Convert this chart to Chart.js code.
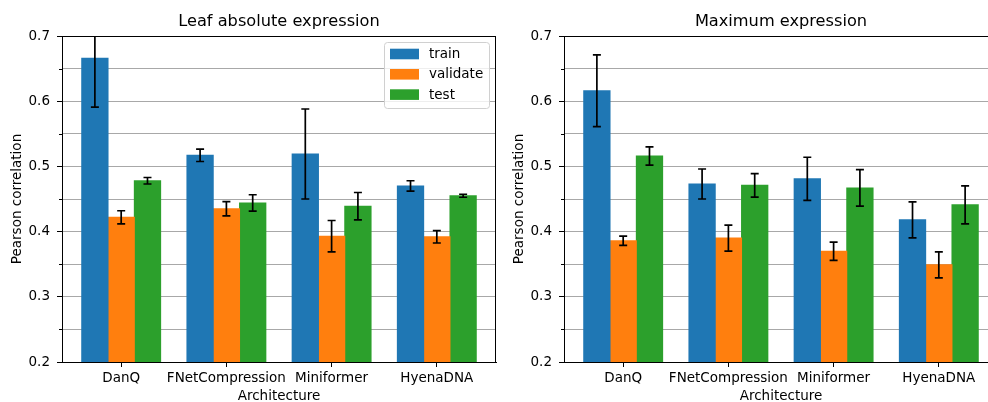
<!DOCTYPE html>
<html>
<head>
<meta charset="utf-8">
<script src="https://cdn.jsdelivr.net/npm/chart.js@4/dist/chart.umd.min.js"></script>
<style>
  html, body { margin: 0; padding: 0; background: #fff; overflow: hidden; width: 988px; height: 402px; }
  .wrap { position: absolute; top: 0; width: 500px; height: 402px; }
  #w1 { left: 0; }
  #w2 { left: 502px; }
</style>
</head>
<body>
<div class="wrap" id="w1"><canvas id="c1" width="500" height="402"></canvas></div>
<div class="wrap" id="w2"><canvas id="c2" width="500" height="402"></canvas></div>
<script>
// ---- data ----
const categories = ['DanQ', 'FNetCompression', 'Miniformer', 'HyenaDNA'];
const seriesNames = ['train', 'validate', 'test'];
const seriesColors = ['#1f77b4', '#ff7f0e', '#2ca02c'];

const leafTrain       = [0.666, 0.517, 0.519, 0.470];
const leafTrainErr    = [0.075, 0.0095, 0.069, 0.008];
const leafValidate    = [0.422, 0.435, 0.393, 0.392];
const leafValidateErr = [0.010, 0.011, 0.024, 0.0095];
const leafTest        = [0.478, 0.444, 0.439, 0.455];
const leafTestErr     = [0.005, 0.0125, 0.021, 0.0023];

const maxTrain        = [0.616, 0.473, 0.481, 0.418];
const maxTrainErr     = [0.055, 0.023, 0.033, 0.0275];
const maxValidate     = [0.386, 0.390, 0.370, 0.349];
const maxValidateErr  = [0.007, 0.020, 0.014, 0.020];
const maxTest         = [0.516, 0.471, 0.467, 0.441];
const maxTestErr      = [0.014, 0.018, 0.028, 0.029];

const yMin = 0.2, yMax = 0.7, yStep = 0.05;
const panelTitles = ['Leaf absolute expression', 'Maximum expression'];
const xTitle = 'Architecture';
const yTitle = 'Pearson correlation';

// ---- setup ----
const FONT = "'DejaVu Sans', 'Liberation Sans', sans-serif";
Chart.defaults.font.family = FONT;
Chart.defaults.font.size = 13.5;
Chart.defaults.color = '#000';

const isMajor = (v) => { const t = v * 10; return Math.abs(t - Math.round(t)) < 1e-6; };

const errorBarPlugin = {
  id: 'errorBars',
  afterDatasetsDraw(chart) {
    const ctx = chart.ctx, area = chart.chartArea, y = chart.scales.y;
    ctx.save();
    ctx.beginPath();
    ctx.rect(area.left, area.top, area.right - area.left, area.bottom - area.top);
    ctx.clip();
    ctx.strokeStyle = '#000';
    ctx.lineWidth = 1.7;
    chart.data.datasets.forEach((ds, di) => {
      const meta = chart.getDatasetMeta(di);
      meta.data.forEach((bar, i) => {
        const v = ds.data[i].y, e = ds.errors[i];
        const x = bar.x;
        const yTop = y.getPixelForValue(v + e), yBot = y.getPixelForValue(v - e);
        ctx.beginPath();
        ctx.moveTo(x, yTop); ctx.lineTo(x, yBot);
        ctx.moveTo(x - 4, yTop); ctx.lineTo(x + 4, yTop);
        ctx.moveTo(x - 4, yBot); ctx.lineTo(x + 4, yBot);
        ctx.stroke();
      });
    });
    ctx.restore();
  }
};

const framePlugin = {
  id: 'frame',
  afterDraw(chart, args, opts) {
    const ctx = chart.ctx, a = chart.chartArea, ys = chart.scales.y;
    ctx.save();
    ctx.strokeStyle = '#000';
    ctx.lineWidth = 1;
    ctx.beginPath();
    const t = Math.round(a.top) + 0.5, r = Math.round(a.right) - 0.5;
    ctx.moveTo(Math.round(a.left), t); ctx.lineTo(r + 0.5, t);
    ctx.moveTo(r, t); ctx.lineTo(r, Math.round(a.bottom));
    // short minor tick marks on the y axis
    const lx = Math.round(a.left);
    ys.ticks.forEach((tk) => {
      if (isMajor(tk.value)) return;
      const py = Math.round(ys.getPixelForValue(tk.value)) + 0.5;
      ctx.moveTo(lx - 3, py); ctx.lineTo(lx, py);
    });
    ctx.stroke();
    // panel title centred over the plot area
    ctx.fillStyle = '#000';
    ctx.font = '16.2px ' + FONT;
    ctx.textAlign = 'center';
    ctx.textBaseline = 'middle';
    ctx.fillText(opts.title, (a.left + a.right) / 2, 21.5);
    ctx.restore();
  }
};

const boxLegendPlugin = {
  id: 'boxLegend',
  afterDraw(chart, args, opts) {
    if (!opts || !opts.show) return;
    const ctx = chart.ctx, a = chart.chartArea;
    const w = 105, h = 66;
    const bx = a.right - 7 - w, by = a.top + 6;
    ctx.save();
    ctx.fillStyle = 'rgba(255,255,255,0.8)';
    ctx.strokeStyle = '#d0d0d0';
    ctx.lineWidth = 1;
    ctx.beginPath();
    if (ctx.roundRect) ctx.roundRect(bx + 0.5, by + 0.5, w, h, 3); else ctx.rect(bx + 0.5, by + 0.5, w, h);
    ctx.fill();
    ctx.stroke();
    ctx.font = '13.5px ' + FONT;
    ctx.textBaseline = 'middle';
    ctx.textAlign = 'left';
    chart.data.datasets.forEach((ds, i) => {
      const cy = by + 12 + i * 20.3;
      ctx.fillStyle = ds.backgroundColor;
      ctx.fillRect(bx + 6, cy - 5.3, 29, 10.6);
      ctx.fillStyle = '#000';
      ctx.fillText(ds.label, bx + 45, cy + 0.5);
    });
    ctx.restore();
  }
};

function makeChart(canvasId, title, series, errs, showLegend) {
  const datasets = seriesNames.map((name, s) => ({
    label: name,
    data: series[s].map((v, i) => ({ x: i, y: v })),
    errors: errs[s],
    backgroundColor: seriesColors[s],
    borderWidth: 0,
    inflateAmount: 0.5,
    categoryPercentage: 0.75,
    barPercentage: 1.0
  }));
  return new Chart(document.getElementById(canvasId), {
    type: 'bar',
    data: { datasets },
    plugins: [errorBarPlugin, framePlugin, boxLegendPlugin],
    options: {
      responsive: false,
      animation: false,
      devicePixelRatio: 1,
      layout: { padding: { left: 0, right: 4, top: 36, bottom: 0 } },
      plugins: {
        legend: { display: false },
        tooltip: { enabled: false },
        title: { display: false },
        frame: { title: title },
        boxLegend: { show: showLegend }
      },
      scales: {
        x: {
          type: 'linear',
          min: -0.5625, max: 3.5625,
          offset: false,
          afterBuildTicks: (scale) => { scale.ticks = categories.map((_, i) => ({ value: i })); },
          afterFit: (scale) => { scale.height = 40; },
          ticks: {
            autoSkip: false, maxRotation: 0, minRotation: 0, padding: 3,
            color: '#000', font: { size: 13.5 },
            callback: (v) => categories[v]
          },
          grid: { display: true, drawOnChartArea: false, drawTicks: true, tickLength: 5, tickColor: '#000', offset: false },
          border: { display: true, color: '#000', width: 1 },
          title: { display: true, text: xTitle, color: '#000', font: { size: 13.5, lineHeight: 0.8 }, padding: { top: 0, bottom: 0 } }
        },
        y: {
          type: 'linear',
          min: yMin, max: yMax,
          afterFit: (scale) => { scale.width = 62; },
          ticks: {
            stepSize: yStep, padding: 7, color: '#000', font: { size: 13.5 },
            callback: (v) => isMajor(v) ? v.toFixed(1) : ''
          },
          grid: {
            color: '#a8a8a8', lineWidth: 1, drawTicks: true, tickLength: 5,
            tickColor: (c) => (c.tick && isMajor(c.tick.value)) ? '#000' : 'rgba(0,0,0,0)'
          },
          border: { display: true, color: '#000', width: 1 },
          title: { display: true, text: yTitle, color: '#000', font: { size: 13.5, lineHeight: 1 }, padding: { top: 11, bottom: 0 } }
        }
      }
    }
  });
}

makeChart('c1', panelTitles[0],
  [leafTrain, leafValidate, leafTest],
  [leafTrainErr, leafValidateErr, leafTestErr], true);
makeChart('c2', panelTitles[1],
  [maxTrain, maxValidate, maxTest],
  [maxTrainErr, maxValidateErr, maxTestErr], false);
</script>
</body>
</html>
